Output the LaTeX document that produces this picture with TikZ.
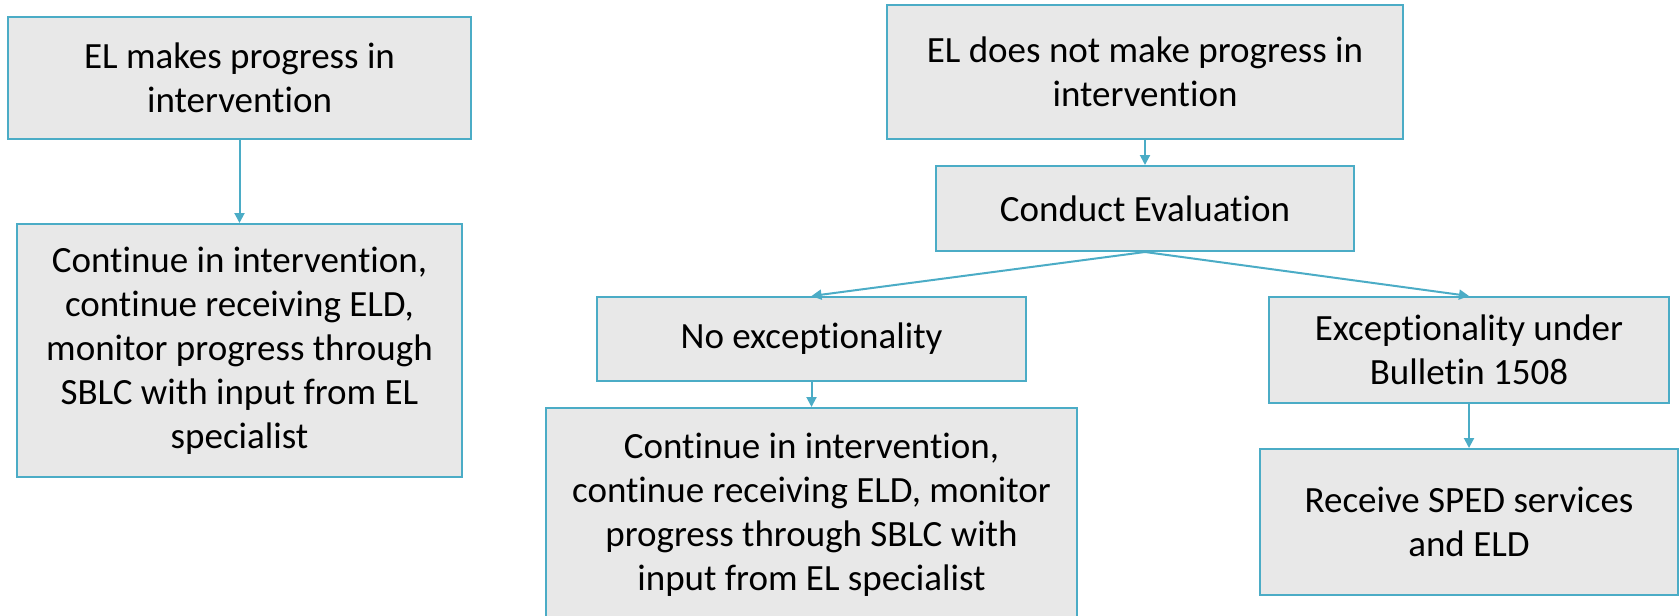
\documentclass[tikz,border=0pt]{standalone}
\usepackage{fontspec}
\setmainfont{Carlito}[RawFeature={-liga;-clig;-calt;-rlig;-dlig;-hlig}]
\usetikzlibrary{arrows.meta}
\definecolor{edge}{HTML}{4BACC6}
\definecolor{boxfill}{HTML}{E8E8E8}
\tikzset{
  box/.style={draw=edge, fill=boxfill, line width=1pt, rectangle, inner sep=0pt,
    align=center, font=\fontsize{18.5pt}{22pt}\selectfont},
  conn/.style={draw=edge, line width=1pt, -{Triangle[length=5pt,width=5pt]}}
}
\begin{document}
\begin{tikzpicture}[x=0.5pt,y=-0.5pt]
\useasboundingbox (0,0) rectangle (1679,615);
\node[box, minimum width=231.5pt, minimum height=61pt] (A) at (239.5,78) {EL makes progress in\\intervention};
\node[box, minimum width=222.5pt, minimum height=126.5pt] (B) at (239.5,350.5) {Continue in intervention,\\continue receiving ELD,\\monitor progress through\\SBLC with input from EL\\specialist};
\node[box, minimum width=258pt, minimum height=67pt] (C) at (1145,72) {EL does not make progress in\\intervention};
\node[box, minimum width=209pt, minimum height=42.5pt] (D) at (1145,208.5) {Conduct Evaluation};
\node[box, minimum width=214.5pt, minimum height=42pt] (E) at (811.5,339) {No exceptionality};
\node[box, minimum width=265.5pt, minimum height=107pt] (F) at (811.5,515) {Continue in intervention,\\continue receiving ELD, monitor\\progress through SBLC with\\input from EL specialist};
\node[box, minimum width=200pt, minimum height=53pt] (G) at (1469,350) {Exceptionality under\\Bulletin 1508};
\node[box, minimum width=209pt, minimum height=73pt] (H) at (1469,522) {Receive SPED services\\and ELD};
\draw[conn] (A.south) -- (B.north);
\draw[conn] (C.south) -- (D.north);
\draw[conn] (D.south) -- (E.north);
\draw[conn] (D.south) -- (G.north);
\draw[conn] (E.south) -- (F.north);
\draw[conn] (G.south) -- (H.north);
\end{tikzpicture}
\end{document}
